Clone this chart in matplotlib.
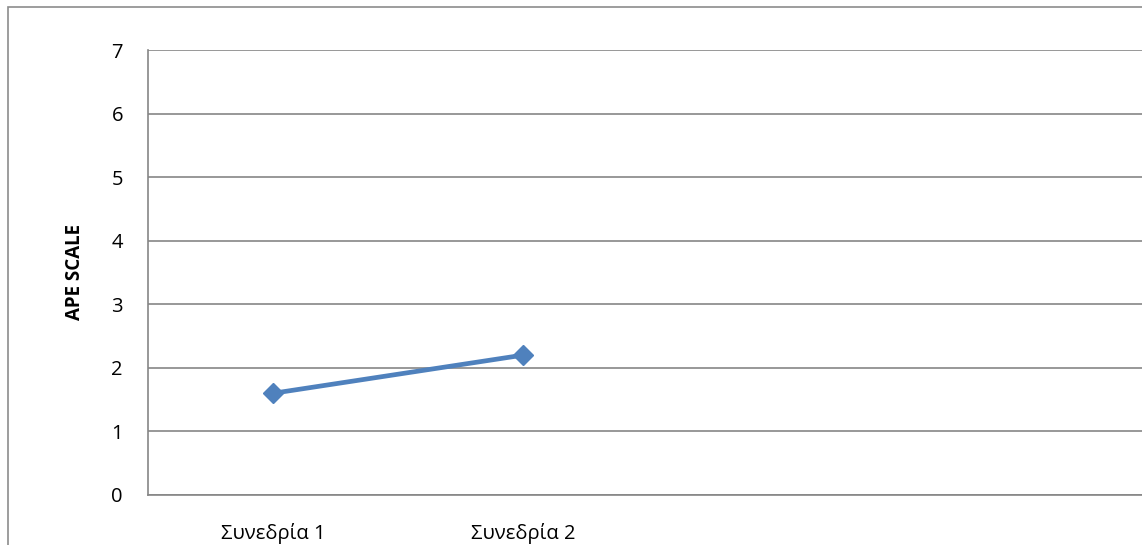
import matplotlib.pyplot as plt
from matplotlib.patches import Rectangle

# APE scale per session
sessions = ["Συνεδρία 1", "Συνεδρία 2", "", ""]
ape_values = [1.6, 2.2]
y_ticks = [0, 1, 2, 3, 4, 5, 6, 7]

plt.rcParams["font.family"] = ["Open Sans", "DejaVu Sans"]

W, H = 1142, 545
fig = plt.figure(figsize=(W / 100, H / 100), dpi=100)

# chart border (runs off the right and bottom edges)
fig.patches.append(Rectangle((8 / W, -0.1), 1.2, 1 - 7 / H + 0.1,
                             transform=fig.transFigure, fill=False,
                             edgecolor="#8c8c8c", linewidth=1.2))

ax = fig.add_axes([148 / W, 50 / H, 1000 / W, 445 / H])
grid_color = "#868686"

ax.plot(range(len(ape_values)), ape_values, color="#4F81BD", linewidth=3.4,
        marker="D", markersize=10, solid_capstyle="round", zorder=3)

ax.set_xlim(-0.5, len(sessions) - 0.5)
ax.set_ylim(0, 7)
ax.set_yticks(y_ticks)
ax.set_xticks(range(len(sessions)))
ax.set_xticklabels(sessions)
ax.tick_params(axis="both", length=0, labelsize=14.5)
ax.tick_params(axis="y", pad=18)
ax.tick_params(axis="x", pad=20)

ax.yaxis.grid(True, color=grid_color, linewidth=1.2)
ax.set_axisbelow(True)
for side in ["top", "right"]:
    ax.spines[side].set_visible(False)
for side in ["left", "bottom"]:
    ax.spines[side].set_color(grid_color)
    ax.spines[side].set_linewidth(1.2)

ax.set_ylabel("APE SCALE", fontsize=13.5, fontweight="bold", labelpad=19)

fig.savefig("out.png", dpi=100)
